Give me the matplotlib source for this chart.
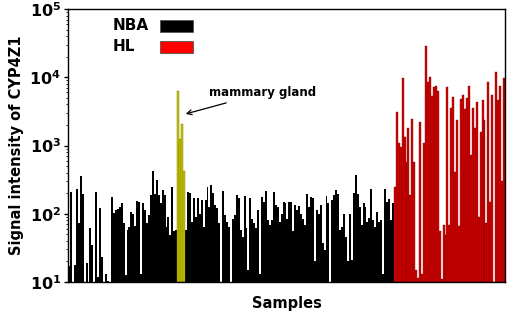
import matplotlib
matplotlib.use("Agg")
import matplotlib.pyplot as plt
from matplotlib.patches import Rectangle
import numpy as np

# NBA samples (black), left part
nba_a = [17, 210, 10, 18, 230, 73, 360, 195, 10, 19, 10, 62, 35, 10, 205, 12, 123, 23, 10, 13,
         10.5, 10, 177, 101, 113, 117, 127, 142, 74, 12.6, 58, 65, 107, 100, 67, 155, 148, 13, 142,
         113, 72, 95, 187, 427, 198, 309, 187, 142, 222, 187, 65, 91, 49, 250, 55, 58]
# mammary gland samples (yellow)
mammary = [6300, 1250, 2100, 420]
# NBA samples (black), right part
nba_b = [58, 210, 200, 76, 169, 91, 169, 100, 158, 65, 158, 250, 127, 263, 200, 134,
         120, 72, 10, 218, 95, 76, 65, 10, 85, 95, 187, 169, 58, 46, 182, 61, 15, 169, 85, 72,
         61, 113, 13, 177, 151, 218, 81, 68, 81, 210, 134, 127, 76, 100, 151, 142, 85, 148, 151,
         55, 134, 113, 130, 100, 85,
         68, 198, 127, 177, 169, 20, 113, 100, 134, 37, 29, 182, 142, 10, 158, 187, 222, 198, 58,
         65, 100, 46, 20, 100, 21, 204, 370, 198, 127, 68, 142, 127, 76, 87, 228, 81, 65, 107, 76,
         80, 13, 228, 151, 163, 81, 142]
# HL samples (red)
hl = [250, 3100, 1070, 950, 9600, 1350, 570, 1790, 187, 2450, 565, 15, 11.5, 2240, 13, 1070,
      28800, 8500, 10100, 5400, 7100, 7400, 6200, 55, 11, 68, 49,
      7100, 68, 3500, 5100, 410, 2400, 66, 4800, 5500, 3400, 4900, 7400, 725, 3600, 1800,
      4400, 91, 1600, 4600, 2400, 74, 8500, 150, 5500, 10, 12000, 4600, 7400, 300, 9800]

legend_labels = ["NBA", "HL"]
annotation_text = "mammary gland"

fig = plt.figure(figsize=(5.1, 3.2), dpi=100)
ax = fig.add_axes([68/510, 1-282/320, 437/510, 273/320])

base = 10
n_a, n_m, n_b, n_h = len(nba_a), len(mammary), len(nba_b), len(hl)
x = np.arange(n_a + n_m + n_b + n_h)
xa = x[:n_a]
xm = x[n_a:n_a+n_m]
xb = x[n_a+n_m:n_a+n_m+n_b]
xh = x[n_a+n_m+n_b:]

ax.bar(xa, np.array(nba_a) - base, bottom=base, width=1.0, color="black", linewidth=0,
       antialiased=False)
ax.bar(xb, np.array(nba_b) - base, bottom=base, width=1.0, color="black", linewidth=0,
       antialiased=False)
ax.bar(xm, np.array(mammary) - base, bottom=base, width=1.0, color="#c8c800",
       edgecolor="#707000", linewidth=0.3)
ax.bar(xh, np.array(hl) - base, bottom=base, width=1.0, color="#dc0000",
       edgecolor="#5a0000", linewidth=0.25)

ax.set_yscale("log")
ax.set_ylim(10, 1e5)
ax.set_xlim(-0.5, len(x) - 0.5)
ax.set_xticks([])
ax.set_yticks([1e1, 1e2, 1e3, 1e4, 1e5])
ax.set_yticklabels([r"$\mathbf{10^{%d}}$" % k for k in range(1, 6)], fontsize=11.5)
ax.tick_params(axis="y", which="major", length=3, width=1, direction="out", pad=2)
ax.tick_params(axis="y", which="minor", length=1.5, width=0.6, direction="out")
for s in ax.spines.values():
    s.set_linewidth(1.0)

ax.set_ylabel("Signal intensity of CYP4Z1", fontsize=10.5, fontweight="bold", labelpad=4)
ax.set_xlabel("Samples", fontsize=10.5, fontweight="bold", labelpad=10)

# legend
ax.text(0.103, 0.938, legend_labels[0], transform=ax.transAxes, fontsize=11,
        fontweight="bold", va="center", ha="left")
ax.text(0.103, 0.861, legend_labels[1], transform=ax.transAxes, fontsize=11,
        fontweight="bold", va="center", ha="left")
ax.add_patch(Rectangle((0.211, 0.916), 0.076, 0.044, transform=ax.transAxes,
                       facecolor="black", edgecolor="#555555", linewidth=0.6))
ax.add_patch(Rectangle((0.211, 0.839), 0.076, 0.044, transform=ax.transAxes,
                       facecolor="#ff0000", edgecolor="#555555", linewidth=0.6))

# annotation
ax.annotate(annotation_text, xy=(xm[-1] + 0.8, 2900), xytext=(xm[0] + 16, 5900),
            fontsize=8.5, fontweight="bold", va="center", ha="left",
            arrowprops=dict(arrowstyle="->", color="black", lw=0.9, shrinkA=2, shrinkB=0))

fig.savefig("out.png", dpi=100)
